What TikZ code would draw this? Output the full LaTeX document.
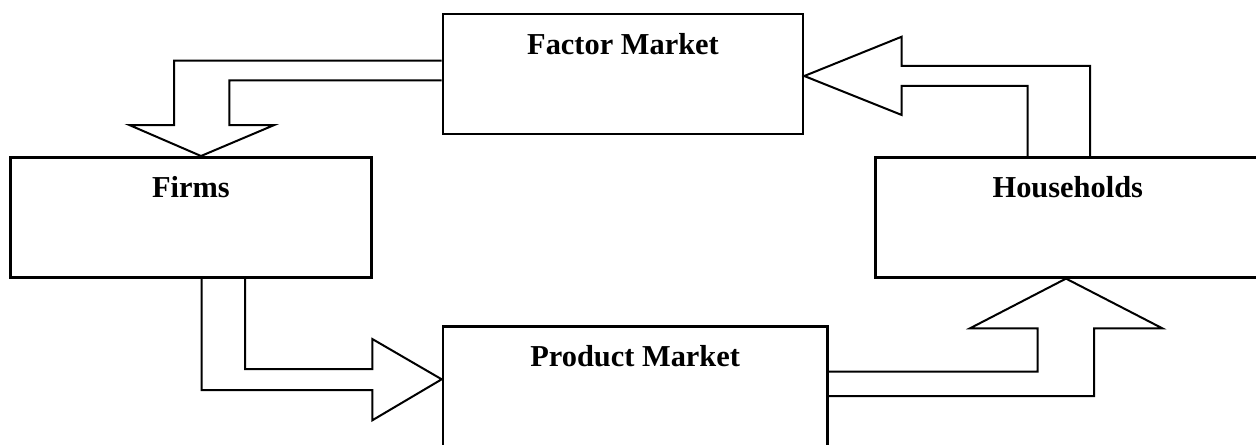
\documentclass[tikz,border=0pt]{standalone}
\usepackage{fontspec}
\setmainfont{Liberation Serif}
\begin{document}
\begin{tikzpicture}[x=0.5pt, y=-0.5pt,
    market/.style={draw, line width=1.3pt, anchor=north west, inner xsep=0pt, inner ysep=0pt,
      text height=20.25pt, text depth=39.75pt, font=\fontsize{15.2}{18}\selectfont\bfseries},
    flow/.style={draw, line width=1pt, line join=miter}]
      \useasboundingbox (0,0) rectangle (1256,444);
      \clip (0,0) rectangle (1256,444);
      \node[market, minimum width=180pt] (fac) at (441.7,12.7){Factor Market};
      \node[market, minimum width=180.35pt] (firms) at (9.3,156){Firms};
      \node[market, minimum width=192.5pt] (hh) at (874,156){Households};
      \node[market, minimum width=192.15pt] (prod) at (441.7,325){Product Market};
      \draw[flow](fac.west |- 0,60.7) -- (174,60.7) -- (174,125) -- (129.3,125) -- (firms.north -| 201,0)
        -- (274.3,125) -- (229.3,125) -- (229.3,80.3) -- (fac.west |- 0,80.3);
      \draw[flow](hh.north -| 1027.7,0) -- (1027.7,86) -- (901.7,86) -- (901.7,115) -- (fac.east |- 0,76)
        -- (901.7,36.7) -- (901.7,66) -- (1090,66) -- (hh.north -| 1090,0);
      \draw[flow](firms.south -| 201.7,0) -- (201.7,390) -- (372.3,390) -- (372.3,420.3) -- (prod.west |- 0,379.3)
        -- (372.3,339) -- (372.3,369) -- (245,369) -- (firms.south -| 245,0);
      \draw[flow](prod.east |- 0,371.7) -- (1037.7,371.7) -- (1037.7,328.3) -- (970,328.3) -- (hh.south -| 1066,0)
        -- (1162.3,328.3) -- (1094,328.3) -- (1094,396) -- (prod.east |- 0,396);
\end{tikzpicture}
\end{document}
